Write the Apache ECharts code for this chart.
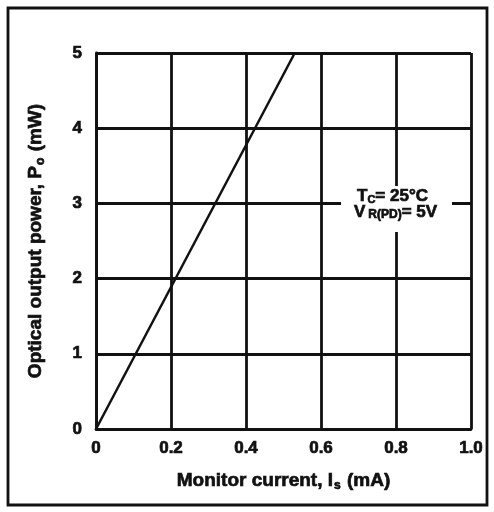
<!DOCTYPE html>
<html>
<head>
<meta charset="utf-8">
<script src="https://cdn.jsdelivr.net/npm/echarts@6/dist/echarts.min.js"></script>
<style>
  html, body { margin: 0; padding: 0; background: #fff; }
  #chart { width: 494px; height: 512px; }
</style>
</head>
<body>
<div id="chart"></div>
<script>
// Monitor current (mA) vs optical output power (mW)
const monitorCurrent = [0, 0.53];
const outputPower = [0, 5];
const xTicks = [0, 0.2, 0.4, 0.6, 0.8, 1.0];
const yTicks = [0, 1, 2, 3, 4, 5];

const FONT = '"Liberation Sans", Arial, sans-serif';
const INK = '#111';
const chart = echarts.init(document.getElementById('chart'), null, { renderer: 'canvas' });

const gridLine = { lineStyle: { color: INK, width: 2.8 } };
// heavy text: bold face plus a thin outline
const heavy = (size, extra) => Object.assign({
  fontFamily: FONT, fontWeight: 'bold', fontSize: size, color: INK,
  textBorderColor: INK, textBorderWidth: 0.7
}, extra || {});

const titleRich = {
  n: heavy(19, { lineHeight: 22 }),
  s: heavy(12, { lineHeight: 22, padding: [9, 1, 0, 1] })
};

// rich styles for the free-standing condition label (zrender text style)
const labelRich = (size, pad) => ({
  font: 'bold ' + size + 'px ' + FONT,
  fill: INK, stroke: INK, lineWidth: 0.7,
  lineHeight: 17, padding: pad
});

chart.setOption({
  backgroundColor: '#fff',
  animation: false,
  grid: { left: 96, right: 23, top: 53, bottom: 83 },
  xAxis: {
    type: 'value', min: 0, max: 1, interval: 0.2,
    axisLine: { show: true, lineStyle: { color: INK, width: 2.8 } },
    axisTick: { show: false },
    splitLine: Object.assign({ show: true }, gridLine),
    axisLabel: Object.assign(heavy(17), {
      margin: 11,
      formatter: v => { const t = xTicks.find(k => Math.abs(k - v) < 1e-6); return t === 0 ? '0' : t.toFixed(1); }
    }),
    name: '{n|Monitor current, I}{s|s}{n| (mA)}',
    nameLocation: 'middle', nameGap: 41,
    nameTextStyle: { rich: titleRich }
  },
  yAxis: {
    type: 'value', min: 0, max: 5, interval: 1,
    axisLine: { show: true, lineStyle: { color: INK, width: 2.8 } },
    axisTick: { show: false },
    splitLine: Object.assign({ show: true }, gridLine),
    axisLabel: Object.assign(heavy(17), {
      margin: 14,
      formatter: v => String(yTicks.find(k => Math.abs(k - v) < 1e-6))
    }),
    name: '{n|Optical output power, P}{s|o}{n| (mW)}',
    nameLocation: 'middle', nameGap: 49, nameRotate: 90,
    nameTextStyle: { rich: titleRich }
  },
  series: [{
    type: 'line',
    data: monitorCurrent.map((x, i) => [x, outputPower[i]]),
    symbol: 'none',
    lineStyle: { color: INK, width: 2.5 },
    z: 5
  }],
  graphic: [
    // outer frame
    { type: 'rect', shape: { x: 8, y: 8, width: 479, height: 497 },
      style: { fill: 'none', stroke: INK, lineWidth: 2.8 }, z: 10 },
    // condition label with white backing
    { type: 'rect', shape: { x: 341, y: 186, width: 111, height: 46 },
      style: { fill: '#fff' }, z: 20 },
    { type: 'text', x: 357, y: 188, z: 21,
      style: { text: '{n|T}{s|C}{n|= 25°C}',
        rich: { n: labelRich(17, [0, 0, 0, 0]), s: labelRich(11, [7, 0, 0, 0]) } } },
    { type: 'text', x: 354, y: 204, z: 21,
      style: { text: '{n|V}{s|R(PD)}{n|= 5V}',
        rich: { n: labelRich(17, [0, 0, 0, 0]), s: labelRich(12, [5, 0, 0, 3]) } } }
  ]
});
</script>
</body>
</html>
